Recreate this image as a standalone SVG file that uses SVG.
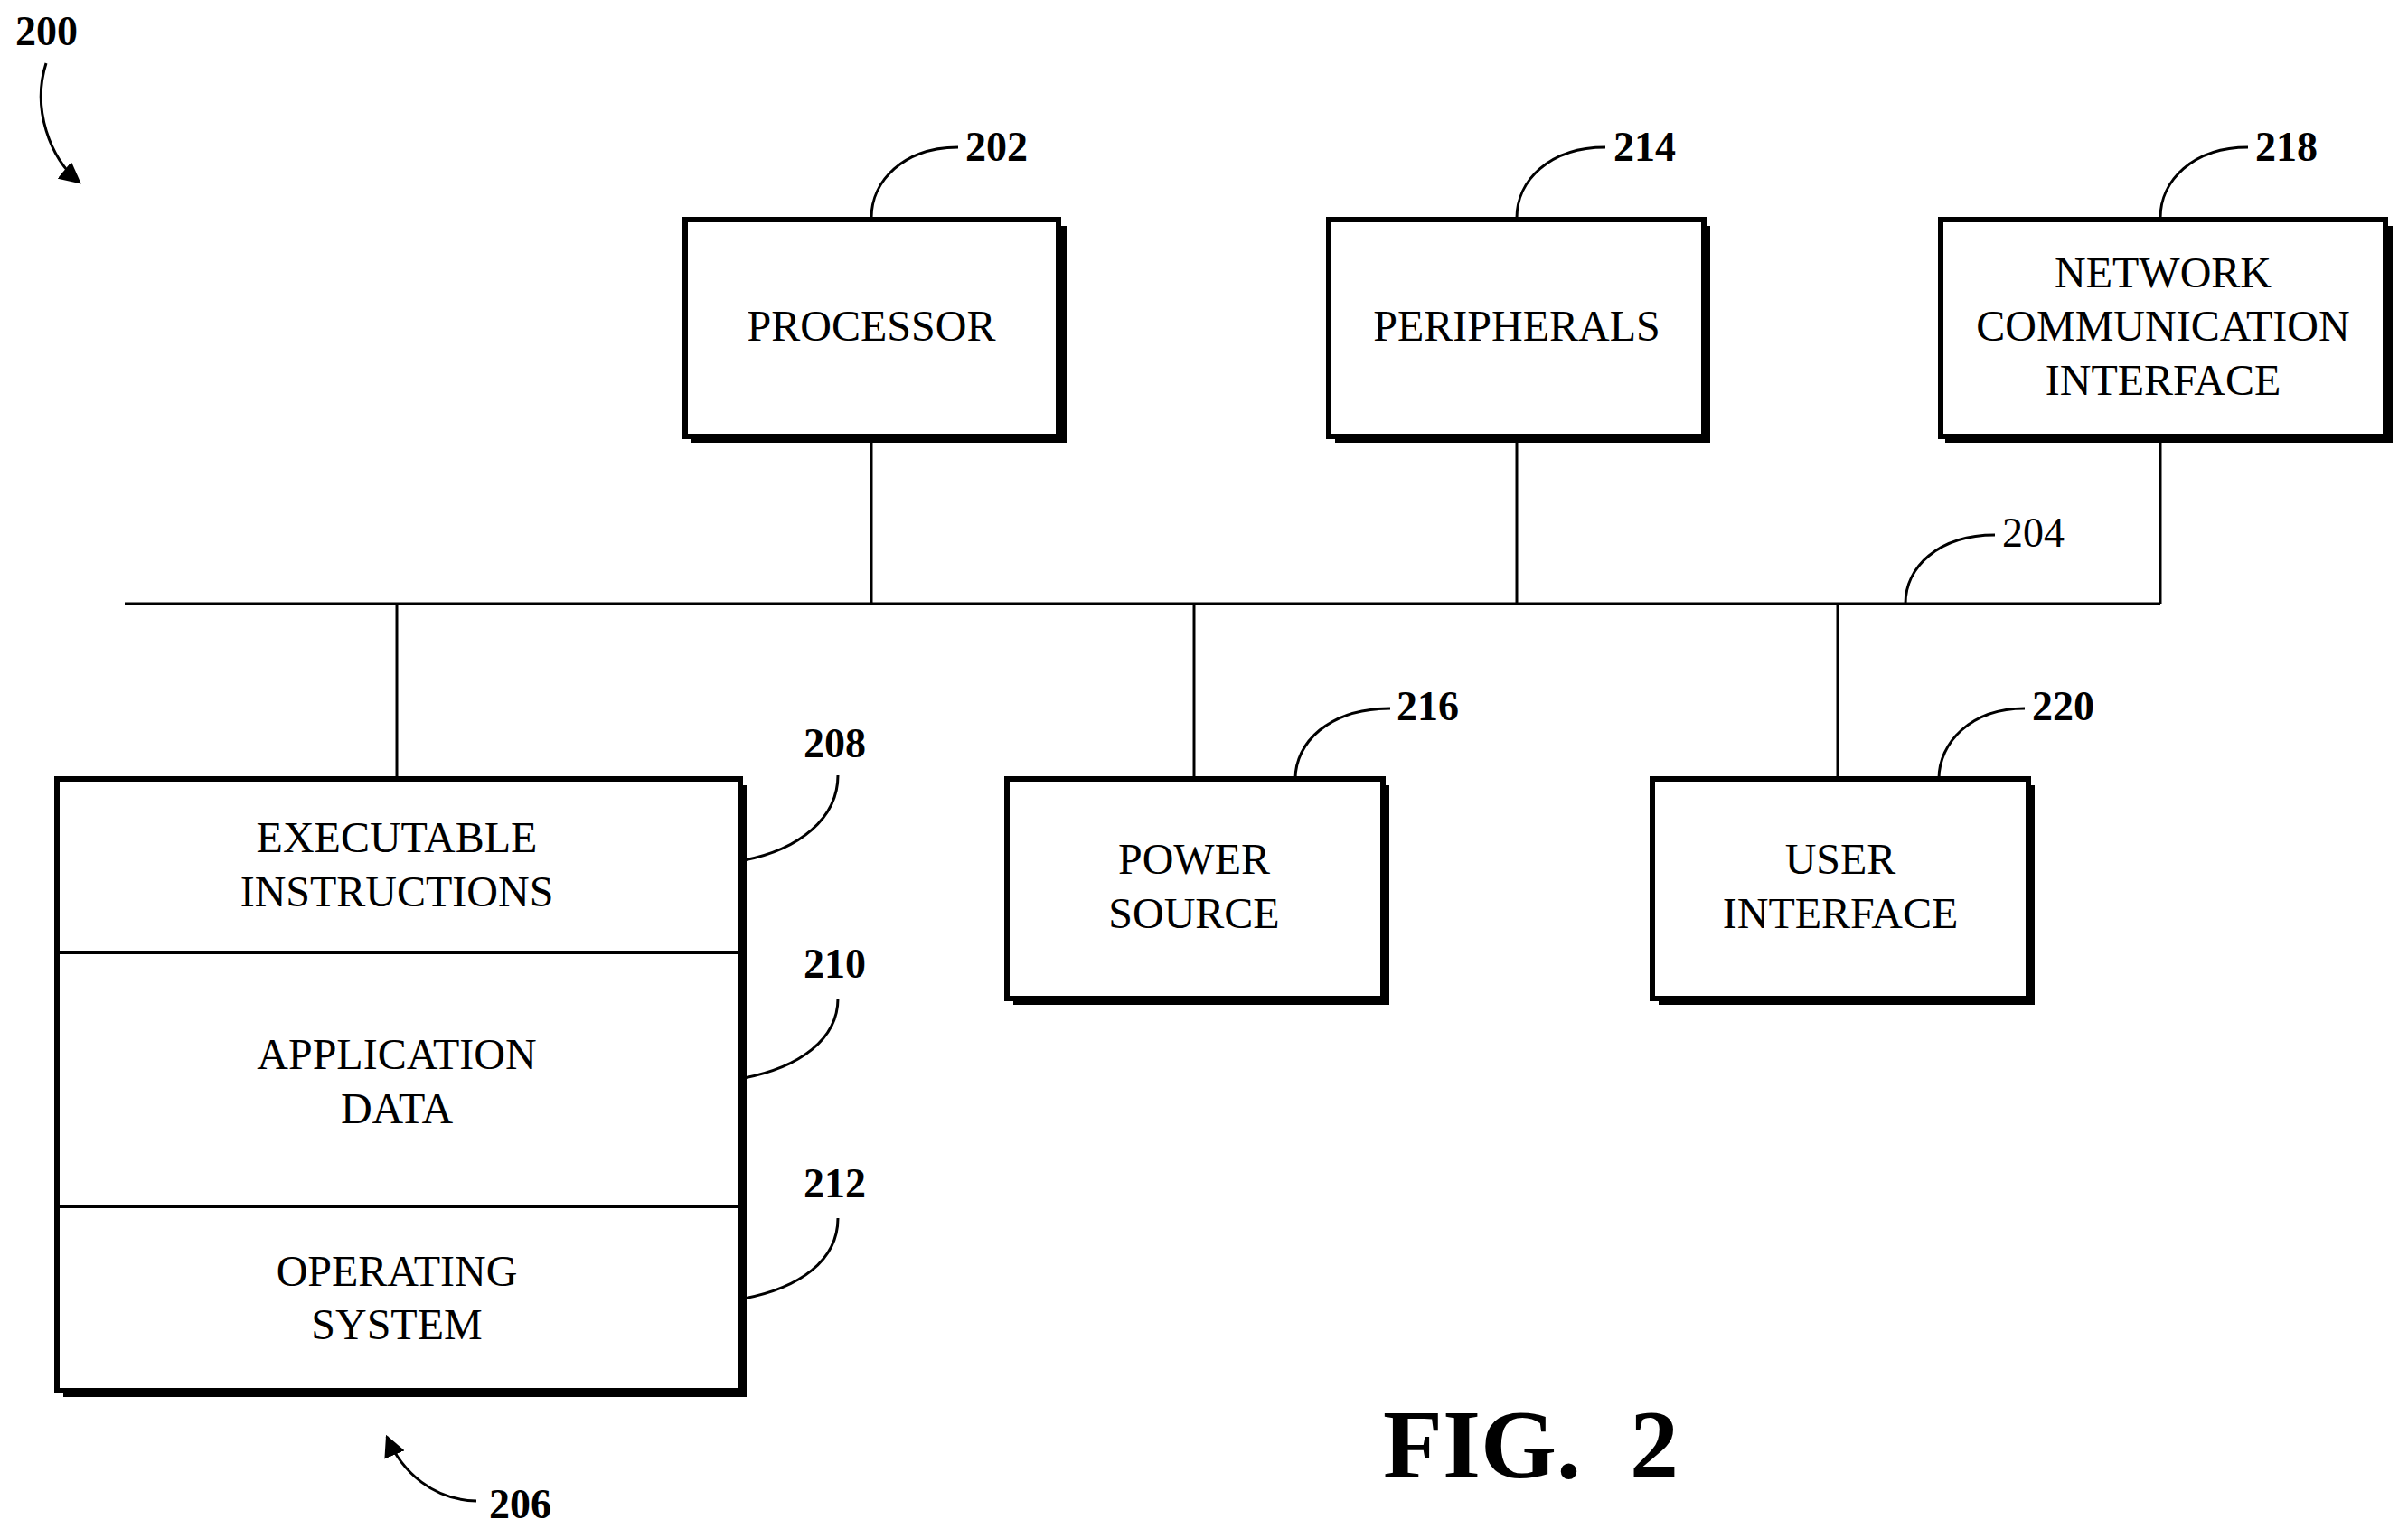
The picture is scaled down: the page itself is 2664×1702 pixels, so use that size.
<svg xmlns="http://www.w3.org/2000/svg" width="2664" height="1702" viewBox="0 0 2664 1702">
<defs>
<style>
.box{fill:#fff;stroke:#000;stroke-width:6}
.sh{fill:#000}
.t{font-family:"Liberation Serif",serif;font-size:48px;text-anchor:middle;fill:#000}
.n{font-family:"Liberation Serif",serif;font-size:46px;font-weight:bold;fill:#000}
.nr{font-family:"Liberation Serif",serif;font-size:46px;fill:#000}
.l{fill:none;stroke:#000;stroke-width:3}
</style>
<marker id="ah" viewBox="0 0 10 10" refX="9" refY="5" markerWidth="8" markerHeight="8" orient="auto"><path d="M0,0L10,5L0,10z" fill="#000"/></marker>
</defs>
<rect width="2664" height="1702" fill="#fff"/>
<g id="connectors" class="l">
<line x1="138" y1="668" x2="2390" y2="668"/>
<line x1="964" y1="485" x2="964" y2="668"/>
<line x1="1678" y1="485" x2="1678" y2="668"/>
<line x1="2390" y1="485" x2="2390" y2="668"/>
<line x1="439" y1="668" x2="439" y2="862"/>
<line x1="1321" y1="668" x2="1321" y2="862"/>
<line x1="2033" y1="668" x2="2033" y2="862"/>
<path d="M964,241C964,200 1000,163 1060,163"/>
<path d="M1678,241C1678,200 1714,163 1776,163"/>
<path d="M2390,241C2390,200 2426,163 2487,163"/>
<path d="M2108,668C2108,628 2144,592 2207,592"/>
<path d="M1433,862C1433,822 1470,784 1538,784"/>
<path d="M2145,862C2145,822 2180,784 2240,784"/>
<path d="M823,952C885,940 927,905 927,858"/>
<path d="M823,1193C885,1181 927,1150 927,1105"/>
<path d="M823,1437C885,1425 927,1395 927,1348"/>
<path d="M527,1661C480,1660 445,1630 428,1590" marker-end="url(#ah)"/>
<path d="M51,70C35,120 55,175 88,202" marker-end="url(#ah)"/>
</g>
<g id="n200"><text class="n" x="17" y="50">200</text></g>
<g id="n202"><rect class="sh" x="765" y="250" width="415" height="240"/><rect class="box" x="758" y="243" width="413" height="240"/><text class="t" x="964" y="377">PROCESSOR</text><text class="n" x="1068" y="178">202</text></g>
<g id="n214"><rect class="sh" x="1477" y="250" width="415" height="240"/><rect class="box" x="1470" y="243" width="415" height="240"/><text class="t" x="1678" y="377">PERIPHERALS</text><text class="n" x="1785" y="178">214</text></g>
<g id="n218"><rect class="sh" x="2152" y="250" width="495" height="240"/><rect class="box" x="2147" y="243" width="492" height="240"/><text class="t" x="2393" y="318">NETWORK</text><text class="t" x="2393" y="377">COMMUNICATION</text><text class="t" x="2393" y="437">INTERFACE</text><text class="n" x="2495" y="178">218</text></g>
<g id="n204"><text class="nr" x="2215" y="605">204</text></g>
<g id="n206"><rect class="sh" x="70" y="869" width="756" height="677"/><rect class="box" x="63" y="862" width="756" height="677"/><line class="l" x1="63" y1="1054" x2="819" y2="1054" style="stroke-width:4"/><line class="l" x1="63" y1="1335" x2="819" y2="1335" style="stroke-width:4"/>
<text class="t" x="439" y="943">EXECUTABLE</text><text class="t" x="439" y="1003">INSTRUCTIONS</text>
<text class="t" x="439" y="1183">APPLICATION</text><text class="t" x="439" y="1243">DATA</text>
<text class="t" x="439" y="1423">OPERATING</text><text class="t" x="439" y="1482">SYSTEM</text>
<text class="n" x="889" y="838">208</text><text class="n" x="889" y="1082">210</text><text class="n" x="889" y="1325">212</text><text class="n" x="541" y="1680">206</text></g>
<g id="n216"><rect class="sh" x="1121" y="869" width="416" height="243"/><rect class="box" x="1114" y="862" width="416" height="243"/><text class="t" x="1321" y="967">POWER</text><text class="t" x="1321" y="1027">SOURCE</text><text class="n" x="1545" y="797">216</text></g>
<g id="n220"><rect class="sh" x="1835" y="869" width="416" height="243"/><rect class="box" x="1828" y="862" width="416" height="243"/><text class="t" x="2036" y="967">USER</text><text class="t" x="2036" y="1027">INTERFACE</text><text class="n" x="2248" y="797">220</text></g>
<g id="fig"><text x="1530" y="1635" style="font-family:'Liberation Serif',serif;font-size:108px;font-weight:bold">FIG.&#160; 2</text></g>
</svg>
